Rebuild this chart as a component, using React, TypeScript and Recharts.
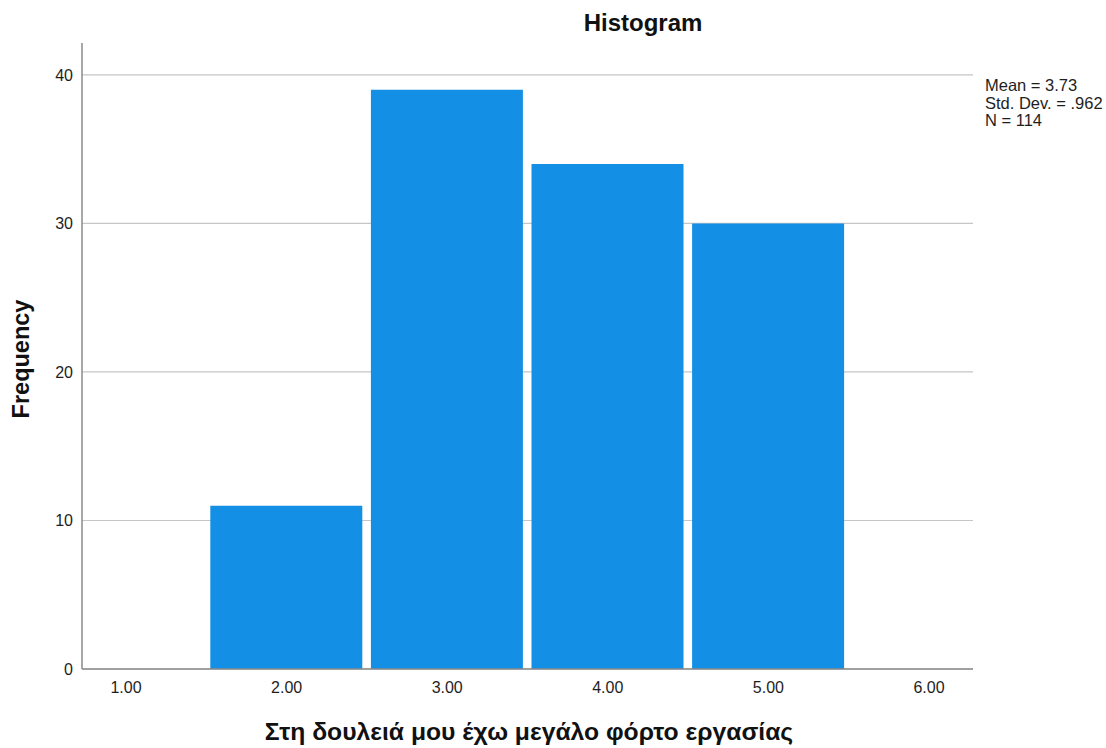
import React from "react";
import { BarChart, Bar, XAxis, YAxis, CartesianGrid } from "recharts";

const binCenters = [1, 2, 3, 4, 5, 6];
const frequencies = [0, 11, 39, 34, 30, 0];
const xTicks = [1, 2, 3, 4, 5, 6];
const yTicks = [0, 10, 20, 30, 40];
const statLines = ["Mean = 3.73", "Std. Dev. = .962", "N = 114"];

const data = binCenters.map((x, i) => ({ x, count: frequencies[i] }));

const font = '"Liberation Sans", Arial, sans-serif';
const barColor = "#1390e6";

export default function App() {
  return (
    <div style={{ position: "absolute", left: 0, top: 0, width: 1106, height: 748, background: "#fff", fontFamily: font }}>
      <BarChart
        width={1106}
        height={748}
        data={data}
        margin={{ top: 43, right: 133, bottom: 49, left: 22 }}
      >
        <CartesianGrid vertical={false} horizontalValues={yTicks} stroke="#c6c6c6" strokeWidth={1.2} />
        <XAxis
          dataKey="x"
          type="number"
          domain={[0.726, 6.274]}
          ticks={xTicks}
          allowDataOverflow
          tickFormatter={(v: number) => v.toFixed(2)}
          tickLine={false}
          tickMargin={7}
          height={30}
          axisLine={{ stroke: "#8a8a8a", strokeWidth: 1.5 }}
          tick={{ fill: "#1e1e1e", fontSize: 16, fontFamily: font }}
        />
        <YAxis
          type="number"
          domain={[0, 42.15]}
          ticks={yTicks}
          allowDataOverflow
          width={60}
          tickLine={false}
          tickMargin={3}
          axisLine={{ stroke: "#8a8a8a", strokeWidth: 1.5 }}
          tick={{ fill: "#1e1e1e", fontSize: 16, fontFamily: font }}
        />
        <Bar dataKey="count" fill={barColor} barSize={152} isAnimationActive={false} />
      </BarChart>

      <div style={{ position: "absolute", left: 543, top: 11, width: 200, textAlign: "center", fontSize: 24, lineHeight: "24px", fontWeight: "bold", color: "#111" }}>
        Histogram
      </div>

      <div style={{ position: "absolute", left: 129, top: 720, width: 800, textAlign: "center", fontSize: 24.7, lineHeight: "24px", fontWeight: "bold", color: "#111" }}>
        Στη δουλειά μου έχω μεγάλο φόρτο εργασίας
      </div>

      <div
        style={{
          position: "absolute",
          left: 21 - 150,
          top: 359 - 12,
          width: 300,
          height: 24,
          textAlign: "center",
          fontSize: 23.5,
          lineHeight: "24px",
          fontWeight: "bold",
          color: "#111",
          transform: "rotate(-90deg)",
        }}
      >
        Frequency
      </div>

      <div style={{ position: "absolute", left: 985, top: 77, fontSize: 16.5, lineHeight: "17.5px", color: "#1e1e1e" }}>
        {statLines.map((s) => (
          <div key={s}>{s}</div>
        ))}
      </div>
    </div>
  );
}
